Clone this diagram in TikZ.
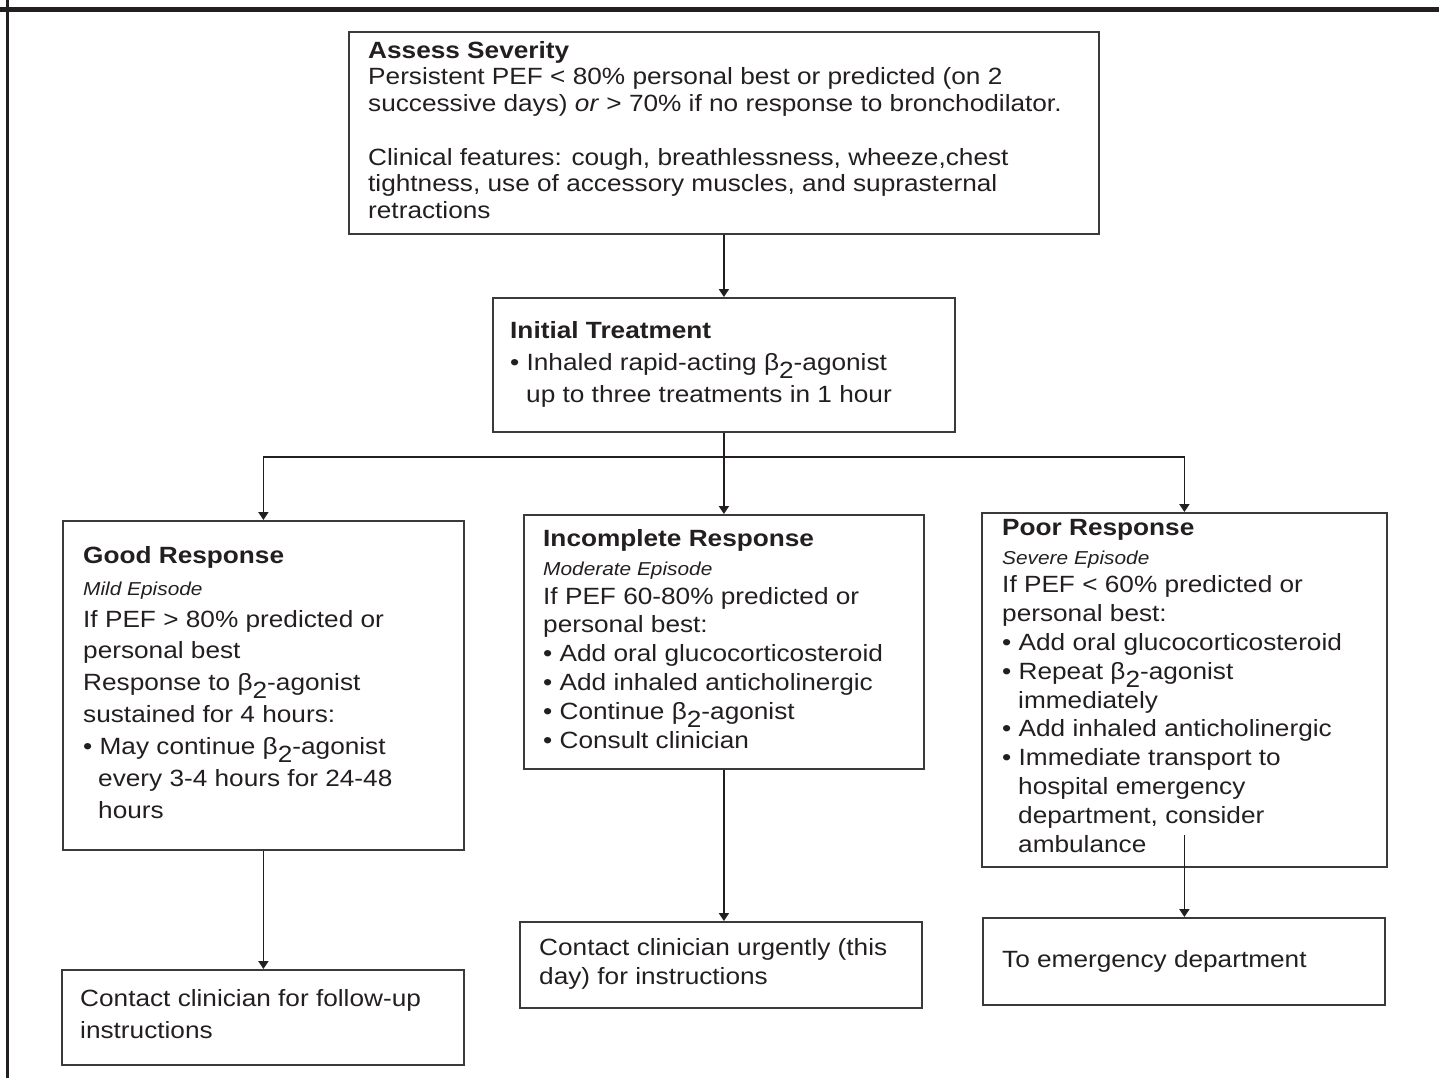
\documentclass[tikz,border=0pt]{standalone}
\usepackage{fontspec}
\setmainfont{Liberation Sans}[FakeStretch=1.115]
\usetikzlibrary{arrows.meta,calc}
\definecolor{ink}{HTML}{231F20}
\definecolor{frame}{HTML}{3A3A3A}
\newcommand{\betatwo}{β\raisebox{-0.34em}{2}}
\newcommand{\subfont}{\fontsize{18.7}{20}\selectfont\itshape}
\tikzset{
  box/.style={draw=frame, line width=1.8pt, inner sep=0pt, anchor=north west},
  txt/.style={anchor=north west, inner sep=0pt, align=left, text=ink},
  line/.style={draw=ink, line width=1.8pt},
  arr/.style={line, -{Triangle[width=10pt,length=8pt]}},
}
\begin{document}
\begin{tikzpicture}[x=1pt,y=-1pt]
\useasboundingbox (0,0) rectangle (1439,1078);
% frame
\fill[ink] (0,7) rectangle (1439,12);
\fill[ink] (6,0) rectangle (8.5,1078);
% boxes
\node[box, minimum width=750pt, minimum height=202pt] (assess) at (348,31) {};
\node[box, minimum width=462pt, minimum height=134pt] (init) at (492,297) {};
\node[box, minimum width=401pt, minimum height=329pt] (good) at (62,520) {};
\node[box, minimum width=400pt, minimum height=254pt] (incomp) at (523,514) {};
\node[box, minimum width=405pt, minimum height=354pt] (poor) at (981,512) {};
\node[box, minimum width=402pt, minimum height=95pt] (gb) at (61,969) {};
\node[box, minimum width=402pt, minimum height=86pt] (ib) at (519,921) {};
\node[box, minimum width=402pt, minimum height=87pt] (eb) at (982,917) {};
% texts
\node[txt, font=\fontsize{23.5}{26.7}\selectfont] (assesstxt) at (368,41) {%
\textbf{Assess Severity}\\
Persistent PEF < 80\% personal best or predicted (on 2\\
successive days) \textit{or} > 70\% if no response to bronchodilator.\\[26.7pt]
Clinical features: cough, breathlessness, wheeze,chest\\
tightness, use of accessory muscles, and suprasternal\\
retractions};
\node[txt, font=\fontsize{23.5}{32}\selectfont] (inittxt) at (510,321) {%
\textbf{Initial Treatment}\\
• Inhaled rapid-acting \betatwo-agonist\\
\hspace*{16pt}up to three treatments in 1 hour};
\node[txt, font=\fontsize{23.5}{31.9}\selectfont] (goodtxt) at (83,546) {%
\textbf{Good Response}\\
{\subfont Mild Episode}\\
If PEF > 80\% predicted or\\
personal best\\
Response to \betatwo-agonist\\
sustained for 4 hours:\\
• May continue \betatwo-agonist\\
\hspace*{15pt}every 3-4 hours for 24-48\\
\hspace*{15pt}hours};
\node[txt, font=\fontsize{23.5}{28.9}\selectfont] (incomptxt) at (543,529) {%
\textbf{Incomplete Response}\\
{\subfont Moderate Episode}\\
If PEF 60-80\% predicted or\\
personal best:\\
• Add oral glucocorticosteroid\\
• Add inhaled anticholinergic\\
• Continue \betatwo-agonist\\
• Consult clinician};
\node[txt, font=\fontsize{23.5}{28.8}\selectfont] (poortxt) at (1002,519) {%
\textbf{Poor Response}\\
{\subfont Severe Episode}\\
If PEF < 60\% predicted or\\
personal best:\\
• Add oral glucocorticosteroid\\
• Repeat \betatwo-agonist\\
\hspace*{16pt}immediately\\
• Add inhaled anticholinergic\\
• Immediate transport to\\
\hspace*{16pt}hospital emergency\\
\hspace*{16pt}department, consider\\
\hspace*{16pt}ambulance};
\node[txt, font=\fontsize{23.5}{32}\selectfont] (gbtxt) at (80,989) {%
Contact clinician for follow-up\\
instructions};
\node[txt, font=\fontsize{23.5}{29}\selectfont] (ibtxt) at (539,938) {%
Contact clinician urgently (this\\
day) for instructions};
\node[txt, font=\fontsize{23.5}{29}\selectfont] (ebtxt) at (1002,950) {%
To emergency department};
% connectors
\coordinate (split) at ($(init.south)+(0,24)$);
\draw[arr] (assess.south) -- (init.north);
\draw[arr] (init.south) -- (incomp.north);
\draw[arr] (split) -| (good.north);
\draw[arr] (split) -| (poor.north);
\draw[arr] (good.south) -- (good.south |- gb.north);
\draw[arr] (incomp.south) -- (incomp.south |- ib.north);
\coordinate (poorstart) at ($(poor.south)+(0,-33)$);
\draw[arr] (poorstart) -- (poorstart |- eb.north);
\end{tikzpicture}
\end{document}
